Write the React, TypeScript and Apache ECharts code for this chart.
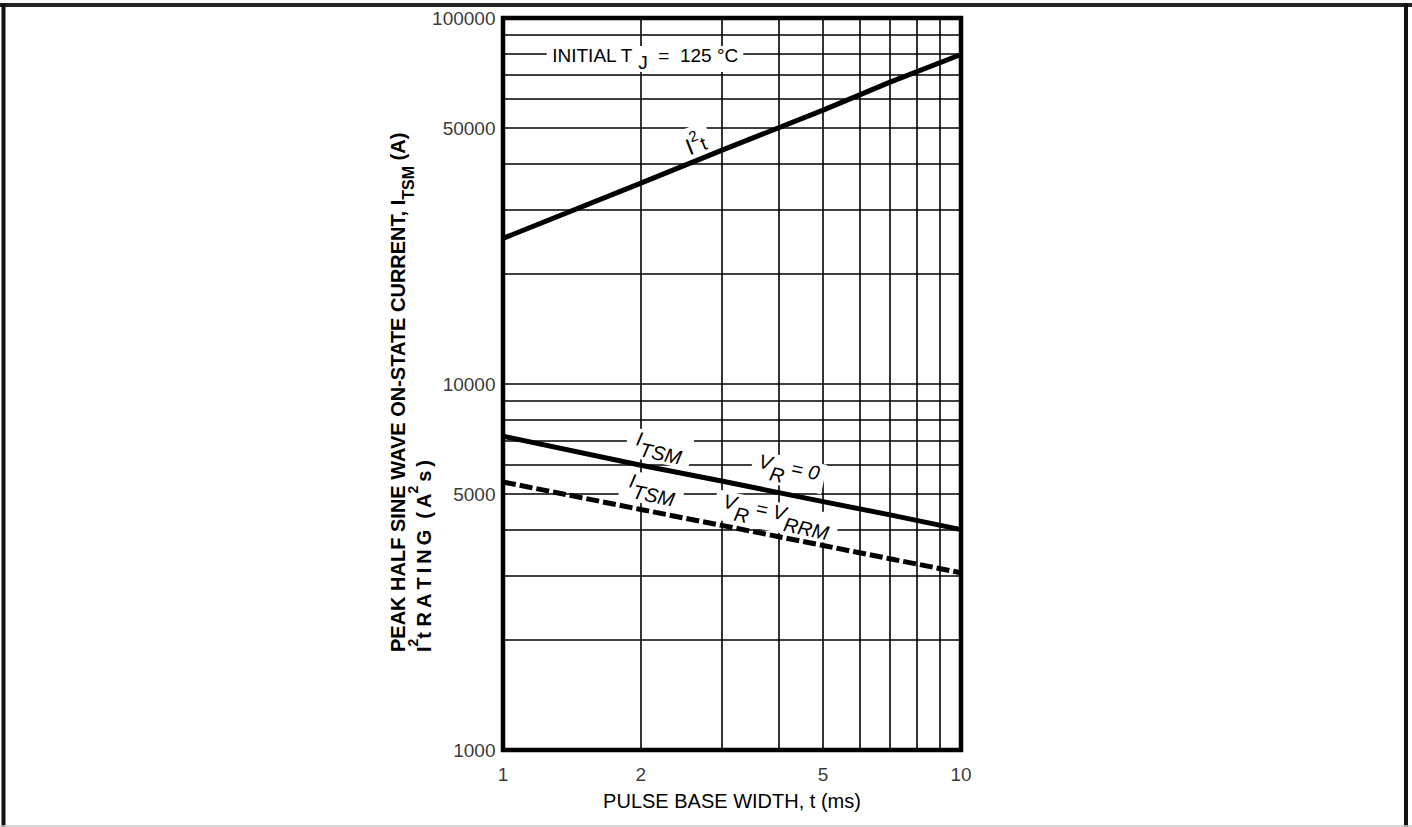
import React, { useEffect, useRef } from "react";
import * as echarts from "echarts";

// ---- data ----
const PULSE_WIDTH_MS = [1, 2, 3, 5, 7, 10];
const I2T_RATING = [25000, 35400, 43500, 56000, 66800, 79500];
const ITSM_VR_ZERO = [7200, 6000, 5430, 4770, 4390, 4000];
const ITSM_VR_VRRM = [5400, 4540, 4110, 3620, 3330, 3050];

const X_MIN = 1;
const X_MAX = 10;
const Y_MIN = 1000;
const Y_MAX = 100000;
const X_TICK_LABELS = [1, 2, 5, 10];
const Y_TICK_LABELS = [1000, 5000, 10000, 50000, 100000];
const X_GRID_LINES = [2, 3, 4, 5, 6, 7, 8, 9];
const Y_GRID_LINES = [
  2000, 3000, 4000, 5000, 6000, 7000, 8000, 9000, 10000,
  20000, 30000, 40000, 50000, 60000, 70000, 80000, 90000,
];

const FONT = '"Liberation Sans", Arial, Helvetica, sans-serif';

const pairs = (ys: number[]) => PULSE_WIDTH_MS.map((x, i) => [x, ys[i]]);

const tok = (size: number, va: string, lh: number, extra: any = {}) => ({
  fontSize: size,
  fontFamily: FONT,
  fill: "#000",
  lineHeight: lh,
  verticalAlign: va,
  ...extra,
});

function label(x: number, y: number, rotation: number, text: string, rich: any, padding: number[]) {
  return {
    type: "text",
    x,
    y,
    rotation,
    z: 2,
    silent: true,
    style: {
      text,
      rich,
      align: "center",
      verticalAlign: "middle",
      backgroundColor: "#fff",
      padding,
    },
  };
}

const ROT = -0.21;
const italicRich = {
  m: tok(20, "top", 30, { fontStyle: "italic" }),
  s: tok(20, "bottom", 30, { fontStyle: "italic" }),
};

export default function App() {
  const ref = useRef<HTMLDivElement>(null);

  useEffect(() => {
    document.body.style.margin = "0";
    if (!ref.current) return;
    const chart = echarts.init(ref.current, undefined, { renderer: "svg" });

    const option: any = {
      animation: false,
      backgroundColor: "#fff",
      grid: {
        left: 503,
        top: 18,
        width: 458,
        height: 732,
        show: true,
        borderColor: "#000",
        borderWidth: 4.5,
        backgroundColor: "transparent",
      },
      xAxis: {
        type: "log",
        logBase: 10,
        min: X_MIN,
        max: X_MAX,
        axisLine: { show: false },
        axisTick: { show: false },
        axisLabel: { show: false },
        splitLine: { show: false },
        name: "PULSE BASE WIDTH, t (ms)",
        nameLocation: "middle",
        nameGap: 41,
        nameTextStyle: { fontSize: 20, color: "#000", fontFamily: FONT },
      },
      yAxis: {
        type: "log",
        logBase: 10,
        min: Y_MIN,
        max: Y_MAX,
        axisLine: { show: false },
        axisTick: { show: false },
        axisLabel: { show: false },
        splitLine: { show: false },
      },
      series: [
        {
          type: "scatter",
          name: "x tick labels",
          data: X_TICK_LABELS.map((v) => [v, Y_MIN]),
          symbolSize: 1,
          itemStyle: { color: "rgba(0,0,0,0)" },
          silent: true,
          clip: false,
          z: 1,
          label: {
            show: true,
            position: "bottom",
            distance: 14,
            formatter: (p: any) => String(p.value[0]),
            fontSize: 19,
            color: "#000",
            fontFamily: FONT,
          },
          markLine: {
            silent: true,
            z: 1,
            symbol: ["none", "none"],
            label: { show: false },
            emphasis: { disabled: true },
            lineStyle: { color: "#000", width: 1.6, type: "solid" },
            data: [
              ...X_GRID_LINES.map((v) => ({ xAxis: v })),
              ...Y_GRID_LINES.map((v) => ({ yAxis: v })),
            ],
          },
        },
        {
          type: "scatter",
          name: "y tick labels",
          data: Y_TICK_LABELS.map((v) => [X_MIN, v]),
          symbolSize: 1,
          itemStyle: { color: "rgba(0,0,0,0)" },
          silent: true,
          clip: false,
          z: 1,
          label: {
            show: true,
            position: "left",
            distance: 7,
            formatter: (p: any) => String(p.value[1]),
            fontSize: 19,
            color: "#000",
            fontFamily: FONT,
          },
        },
        {
          type: "line",
          name: "I2t",
          data: pairs(I2T_RATING),
          symbol: "none",
          z: 3,
          lineStyle: { color: "#000", width: 5, cap: "butt" },
        },
        {
          type: "line",
          name: "ITSM VR=0",
          data: pairs(ITSM_VR_ZERO),
          symbol: "none",
          z: 3,
          lineStyle: { color: "#000", width: 5, cap: "butt" },
        },
        {
          type: "line",
          name: "ITSM VR=VRRM",
          data: pairs(ITSM_VR_VRRM),
          symbol: "none",
          z: 3,
          lineStyle: { color: "#000", width: 5, type: [13, 4], cap: "butt" },
        },
      ],
      graphic: {
        elements: [
          // outer frame
          { type: "line", z: 10, silent: true, shape: { x1: 0, y1: 5, x2: 1412, y2: 5 }, style: { stroke: "#222", lineWidth: 4 } },
          { type: "line", z: 10, silent: true, shape: { x1: 3.5, y1: 3, x2: 3.5, y2: 827 }, style: { stroke: "#111", lineWidth: 4 } },
          { type: "line", z: 10, silent: true, shape: { x1: 1406, y1: 3, x2: 1406, y2: 827 }, style: { stroke: "#111", lineWidth: 4 } },
          { type: "line", z: 10, silent: true, shape: { x1: 0, y1: 826, x2: 1412, y2: 826 }, style: { stroke: "#c8c8c8", lineWidth: 1.5 } },

          // y-axis title, line 1
          {
            type: "text",
            x: 402,
            y: 652,
            rotation: Math.PI / 2,
            z: 2,
            silent: true,
            style: {
              text: "{b|PEAK HALF SINE WAVE ON-STATE CURRENT, I}{bs|TSM}{b| (A)}",
              rich: {
                b: tok(20, "top", 28, { fontWeight: "bold" }),
                bs: tok(16, "bottom", 28, { fontWeight: "bold" }),
              },
              align: "left",
              verticalAlign: "middle",
            },
          },
          // y-axis title, line 2
          {
            type: "text",
            x: 420,
            y: 652,
            rotation: Math.PI / 2,
            z: 2,
            silent: true,
            style: {
              text:
                "{b|I}{sp|2}{b|t R\u2009A\u2009T\u2009I\u2009N\u2009G  (\u2009A}{sp|2}{b|\u2009s\u2009)}",
              rich: {
                b: tok(20, "bottom", 28, { fontWeight: "bold" }),
                sp: tok(14, "top", 28, { fontWeight: "bold" }),
              },
              align: "left",
              verticalAlign: "middle",
            },
          },

          // in-plot annotations
          label(
            645,
            59,
            0,
            "{a|INITIAL T}{s| J}{a|  =  125 °C}",
            { a: tok(19, "top", 26), s: tok(19, "bottom", 26) },
            [0, 5]
          ),
          label(
            695,
            142,
            0.38,
            "{a|I}{sup|2}{t|t}",
            { a: tok(23, "bottom", 28), sup: tok(15, "top", 28), t: tok(19, "bottom", 28) },
            [2, 6]
          ),
          label(659, 448, ROT, "{m|I}{s|TSM}", italicRich, [0, 9]),
          label(788, 472, ROT, "{m|V}{s|R}{m| = 0}", italicRich, [0, 6]),
          label(652, 490, ROT, "{m|I}{s|TSM}", italicRich, [0, 8]),
          label(776, 517, ROT, "{m|V}{s|R}{m| = V}{s|RRM}", italicRich, [0, 8]),
        ],
      },
    };

    chart.setOption(option);
    return () => {
      chart.dispose();
    };
  }, []);

  return <div ref={ref} style={{ width: 1412, height: 827 }} />;
}
